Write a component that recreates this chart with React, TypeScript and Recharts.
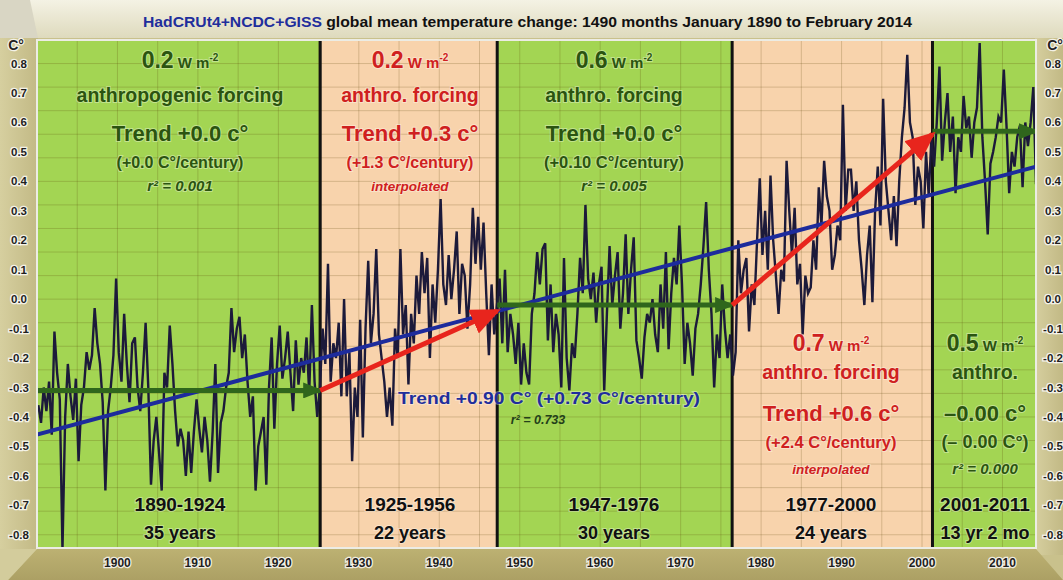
import {
  CartesianGrid,
  ComposedChart,
  Line,
  ReferenceArea,
  ReferenceLine,
  XAxis,
  YAxis,
} from "recharts";

const WIDTH = 1063;
const HEIGHT = 580;
const FONT = "'Liberation Sans', Arial, Helvetica, sans-serif";

// Global mean anomaly (C°), three readings a year, Jan 1890 .. Feb 2014
const t1890s = [
  -0.36, -0.42, -0.30, -0.38, -0.28, -0.46, -0.11, -0.25, -0.34, -0.85,
  -0.40, -0.22, -0.33, -0.41, -0.27, -0.55, -0.36, -0.30, -0.18, -0.24,
  -0.19, -0.03, -0.15, -0.22, -0.35, -0.65, -0.38, -0.30, -0.19, 0.07,
];
const t1900s = [
  -0.18, -0.28, -0.05, -0.22, -0.35, -0.15, -0.13, -0.30, -0.38, -0.25,
  -0.08, -0.30, -0.63, -0.48, -0.40, -0.52, -0.65, -0.25, -0.30, -0.09,
  -0.22, -0.38, -0.50, -0.44, -0.48, -0.60, -0.45, -0.59, -0.45, -0.34,
];
const t1910s = [
  -0.44, -0.52, -0.40, -0.48, -0.62, -0.45, -0.22, -0.59, -0.42, -0.38,
  -0.30, -0.25, -0.03, -0.18, -0.10, -0.06, -0.20, -0.12, -0.28, -0.40,
  -0.33, -0.65, -0.50, -0.45, -0.40, -0.63, -0.30, -0.13, -0.44, -0.22,
];
const t1920s = [
  -0.09, -0.27, -0.20, -0.11, -0.25, -0.38, -0.14, -0.29, -0.20, -0.25,
  -0.13, -0.32, -0.02, -0.28, -0.40, -0.30, -0.10, -0.22, 0.12, -0.28,
  -0.15, -0.20, -0.08, -0.33, 0.0, -0.33, -0.18, -0.55, -0.30, -0.40,
];
const t1930s = [
  -0.07, -0.47, -0.10, 0.13, -0.15, -0.05, 0.17, -0.12, -0.20, -0.28,
  -0.40, -0.30, -0.43, -0.10, -0.20, 0.17, -0.12, -0.02, -0.29, -0.05,
  -0.15, 0.08, -0.05, 0.16, 0.02, 0.14, -0.20, 0.05, -0.08, 0.10,
];
const t1940s = [
  0.34, 0.05, -0.02, 0.15, 0.0, 0.10, 0.23, -0.05, 0.12, 0.08,
  -0.10, 0.05, 0.31, 0.12, 0.28, 0.10, 0.26, 0.02, -0.19, 0.05,
  -0.12, -0.02, 0.07, -0.15, 0.10, -0.18, -0.05, -0.12, -0.22, -0.08,
];
const t1950s = [
  -0.29, -0.15, -0.25, -0.29, -0.05, 0.02, 0.16, 0.05, 0.17, 0.19,
  -0.14, 0.05, -0.18, -0.05, -0.12, -0.30, 0.14, -0.20, -0.31, -0.15,
  -0.20, -0.05, 0.14, 0.02, 0.32, 0.07, 0.0, 0.09, -0.08, 0.05,
];
const t1960s = [
  0.11, -0.31, -0.05, 0.18, -0.02, 0.08, 0.16, -0.10, 0.02, 0.22,
  -0.05, 0.10, 0.21, -0.14, -0.20, -0.27, -0.13, -0.05, -0.08, 0.0,
  -0.12, -0.18, 0.05, -0.10, 0.16, -0.17, 0.02, 0.14, 0.05, 0.25,
];
const t1970s = [
  0.05, -0.22, -0.08, -0.15, -0.26, -0.10, -0.05, 0.05, 0.18, 0.33,
  0.10, -0.05, -0.30, -0.12, -0.20, 0.05, -0.10, -0.20, -0.12, -0.26,
  -0.18, 0.20, 0.02, 0.10, 0.14, -0.11, 0.05, -0.02, 0.20, 0.41,
];
const t1980s = [
  0.15, 0.30, 0.10, 0.42, 0.20, 0.08, -0.05, 0.10, 0.06, 0.47,
  0.30, 0.15, 0.31, 0.05, 0.12, -0.12, 0.08, 0.02, 0.04, 0.20,
  0.10, 0.38, 0.25, 0.47, 0.35, 0.30, 0.10, 0.15, 0.25, 0.20,
];
const t1990s = [
  0.66, 0.30, 0.44, 0.44, 0.30, 0.40, 0.20, 0.10, -0.02, 0.15,
  0.25, -0.01, 0.30, 0.45, 0.25, 0.68, 0.40, 0.30, 0.20, 0.35,
  0.18, 0.40, 0.55, 0.65, 0.83, 0.60, 0.55, 0.32, 0.45, 0.40,
];
const t2000s = [
  0.24, 0.50, 0.35, 0.55, 0.45, 0.60, 0.79, 0.47, 0.60, 0.70,
  0.50, 0.62, 0.36, 0.55, 0.50, 0.69, 0.58, 0.62, 0.48, 0.60,
  0.65, 0.87, 0.55, 0.40, 0.22, 0.46, 0.50, 0.55, 0.62, 0.60,
];
const t2010s = [0.78, 0.59, 0.36, 0.50, 0.45, 0.55, 0.59, 0.38, 0.60, 0.52, 0.60, 0.72, 0.39];

const START = 1890;
const END = 2014 + 2 / 12;

// period boundaries and the fitted lines drawn on each period
const periodEdges = [START, 1925.2, 1947.2, 1976.4, 2001.3, END];
const plateauLevels = [-0.31, -0.02, 0.57];
const rampLevels = [
  [-0.31, -0.04],
  [-0.02, 0.56],
];
const overallTrend = [-0.46, 0.45];

const xTicks = [1900, 1910, 1920, 1930, 1940, 1950, 1960, 1970, 1980, 1990, 2000, 2010];
const yTicks = [-0.8, -0.7, -0.6, -0.5, -0.4, -0.3, -0.2, -0.1, 0, 0.1, 0.2, 0.3, 0.4, 0.5, 0.6, 0.7, 0.8];

const GREEN_BG = "#a3d553";
const PEACH_BG = "#f8d3ac";
const GREEN_INK = "#2b5410";
const RED_INK = "#cf2020";
const BLUE_INK = "#1f2e9c";

const temps = [
  ...t1890s, ...t1900s, ...t1910s, ...t1920s, ...t1930s, ...t1940s, ...t1950s,
  ...t1960s, ...t1970s, ...t1980s, ...t1990s, ...t2000s, ...t2010s,
];
const series = temps.map((temp, i) => ({ year: START + (i + 0.5) / 3, temp }));

const gridX = Array.from({ length: 24 }, (_, i) => 1895 + i * 5);
const gridY = Array.from({ length: 87 }, (_, i) => Math.round((-0.84 + i * 0.02) * 100) / 100);

const plateaus = [0, 2, 4].map((p, i) => [
  { year: periodEdges[p], v: plateauLevels[i] },
  { year: periodEdges[p + 1], v: plateauLevels[i] },
]);
const ramps = [1, 3].map((p, i) => [
  { year: periodEdges[p], v: rampLevels[i][0] },
  { year: periodEdges[p + 1], v: rampLevels[i][1] },
]);
const trendLine = [
  { year: START, v: overallTrend[0] },
  { year: END, v: overallTrend[1] },
];

const rowsHigh = [68, 102, 141, 168, 191];
const rowsLow = [351, 379, 421, 448, 474];

const periodNotes = [
  { cx: 180, rows: rowsHigh, ink: GREEN_INK, forcing: "0.2", what: "anthropogenic forcing", trend: "Trend +0.0 c°", rate: "(+0.0 C°/century)", fit: "r² = 0.001", span: "1890-1924", length: "35 years", rateSize: 16 },
  { cx: 410, rows: rowsHigh, ink: RED_INK, forcing: "0.2", what: "anthro. forcing", trend: "Trend +0.3 c°", rate: "(+1.3 C°/century)", fit: "interpolated", span: "1925-1956", length: "22 years", rateSize: 16 },
  { cx: 614, rows: rowsHigh, ink: GREEN_INK, forcing: "0.6", what: "anthro. forcing", trend: "Trend +0.0 c°", rate: "(+0.10 C°/century)", fit: "r² = 0.005", span: "1947-1976", length: "30 years", rateSize: 16.5 },
  { cx: 831, rows: rowsLow, ink: RED_INK, forcing: "0.7", what: "anthro. forcing", trend: "Trend +0.6 c°", rate: "(+2.4 C°/century)", fit: "interpolated", span: "1977-2000", length: "24 years", rateSize: 16.5 },
  { cx: 985, rows: rowsLow, ink: GREEN_INK, forcing: "0.5", what: "anthro.", trend: "–0.00 c°", rate: "(– 0.00 C°)", fit: "r² = 0.000", span: "2001-2011", length: "13 yr 2 mo", rateSize: 18 },
];

const halo = { stroke: "rgba(255,255,255,0.35)", strokeWidth: 2, paintOrder: "stroke" as const };
const tickHalo = { stroke: "#ffffff", strokeWidth: 2.6, strokeOpacity: 0.8, paintOrder: "stroke" as const };

function XTick(props: any) {
  const { x, payload } = props;
  return (
    <text x={x} y={567} textAnchor="middle" fontFamily={FONT} fontSize={12} fontWeight="bold" fill="#1f1f1f" {...tickHalo}>
      {payload.value}
    </text>
  );
}

function LeftTick(props: any) {
  const { y, payload } = props;
  return (
    <text x={19} y={y + 4} textAnchor="middle" fontFamily={FONT} fontSize={11.5} fontWeight="bold" fill="#1f1f1f" {...tickHalo}>
      {Number(payload.value).toFixed(1)}
    </text>
  );
}

function RightTick(props: any) {
  const { y, payload } = props;
  return (
    <text x={1053} y={y + 4} textAnchor="middle" fontFamily={FONT} fontSize={11.5} fontWeight="bold" fill="#1f1f1f" {...tickHalo}>
      {Number(payload.value).toFixed(1)}
    </text>
  );
}

function Frame() {
  return (
    <svg width={WIDTH} height={HEIGHT} style={{ position: "absolute", left: 0, top: 0 }}>
      <defs>
        <linearGradient id="titleBar" x1="0" y1="0" x2="0" y2="1">
          <stop offset="0" stopColor="#f4f2e4" />
          <stop offset="1" stopColor="#dedabd" />
        </linearGradient>
        <linearGradient id="sideBar" x1="0" y1="0" x2="1" y2="0">
          <stop offset="0" stopColor="#d6cf9f" />
          <stop offset="1" stopColor="#c2b985" />
        </linearGradient>
        <linearGradient id="footBar" x1="0" y1="0" x2="0" y2="1">
          <stop offset="0" stopColor="#bcb172" />
          <stop offset="1" stopColor="#aca064" />
        </linearGradient>
      </defs>
      <rect width={WIDTH} height={HEIGHT} fill="#c9c18c" />
      <rect x={0} y={30} width={38} height={525} fill="url(#sideBar)" />
      <rect x={1035} y={30} width={28} height={525} fill="url(#sideBar)" />
      <polygon points="0,0 1063,0 1063,38 0,38" fill="url(#titleBar)" />
      <polygon points="0,0 30,0 38,38 0,38" fill="#d9d6c4" />
      <polygon points="37,549 1036,549 1063,580 8,580" fill="url(#footBar)" />
      <polygon points="0,549 37,549 8,580 0,580" fill="#d3cc9c" />
    </svg>
  );
}

function Notes() {
  const base = { fontFamily: FONT, fontWeight: "bold" as const, textAnchor: "middle" as const };
  return (
    <svg width={WIDTH} height={HEIGHT} style={{ position: "absolute", left: 0, top: 0, pointerEvents: "none" }}>
      <defs>
        <marker id="redHead" markerUnits="userSpaceOnUse" markerWidth={30} markerHeight={26} refX={26} refY={13} orient="auto">
          <path d="M0,0 L30,13 L0,26 Z" fill="#e8251d" />
        </marker>
        <marker id="greenHead" markerUnits="userSpaceOnUse" markerWidth={20} markerHeight={16} refX={17} refY={8} orient="auto">
          <path d="M0,0 L20,8 L0,16 Z" fill="#2f661c" />
        </marker>
      </defs>
      <rect x={37} y={40} width={999} height={508} fill="none" stroke="#ecece4" strokeWidth={2} />

      <text x={143} y={27} fontFamily={FONT} fontWeight="bold" fontSize={15} textLength={769} lengthAdjust="spacingAndGlyphs" fill="#111">
        <tspan fill={BLUE_INK}>HadCRUt4+NCDC+GISS</tspan>
        <tspan> global mean temperature change: 1490 months January 1890 to February 2014</tspan>
      </text>

      <text x={16} y={50} {...base} fontSize={14} fill="#1f1f1f" {...tickHalo}>C°</text>
      <text x={1055} y={50} {...base} fontSize={14} fill="#1f1f1f" {...tickHalo}>C°</text>

      {periodNotes.map((n) => (
        <g key={n.span} fill={n.ink} {...halo}>
          <text x={n.cx} y={n.rows[0]} {...base}>
            <tspan fontSize={23}>{n.forcing}</tspan>
            <tspan fontSize={15}> W m</tspan>
            <tspan fontSize={10} dy={-7}>-2</tspan>
          </text>
          <text x={n.cx} y={n.rows[1]} {...base} fontSize={19.5}>{n.what}</text>
          <text x={n.cx} y={n.rows[2]} {...base} fontSize={22}>{n.trend}</text>
          <text x={n.cx} y={n.rows[3]} {...base} fontSize={n.rateSize}>{n.rate}</text>
          <text x={n.cx} y={n.rows[4]} {...base} fontSize={n.fit === "interpolated" ? 13.5 : 15} fontStyle="italic">{n.fit}</text>
          <text x={n.cx} y={511} {...base} fontSize={19} fill="#111">{n.span}</text>
          <text x={n.cx} y={539} {...base} fontSize={18} fill="#111">{n.length}</text>
        </g>
      ))}

      <text x={398} y={404} fontFamily={FONT} fontWeight="bold" fontSize={16.5} textLength={302} lengthAdjust="spacingAndGlyphs" fill={BLUE_INK} {...halo}>
        Trend +0.90 C° (+0.73 C°/century)
      </text>
      <text x={538} y={424} {...base} fontSize={12.5} fontStyle="italic" fill="#24401a">r² = 0.733</text>
    </svg>
  );
}

export default function App() {
  return (
    <div style={{ position: "absolute", left: 0, top: 0, width: WIDTH, height: HEIGHT }}>
      <Frame />
      <div style={{ position: "absolute", left: 0, top: 0 }}>
        <ComposedChart width={WIDTH} height={HEIGHT} data={series} margin={{ top: 40, right: 0, bottom: 0, left: 0 }}>
          <XAxis
            dataKey="year"
            type="number"
            domain={[START, END]}
            allowDataOverflow
            ticks={xTicks}
            tick={XTick}
            tickLine={false}
            axisLine={false}
            height={32}
          />
          <YAxis
            domain={[-0.845, 0.88]}
            allowDataOverflow
            ticks={yTicks}
            tick={LeftTick}
            tickLine={false}
            axisLine={false}
            width={37}
          />
          <YAxis
            yAxisId="r"
            orientation="right"
            domain={[-0.845, 0.88]}
            allowDataOverflow
            ticks={yTicks}
            tick={RightTick}
            tickLine={false}
            axisLine={false}
            width={27}
          />
          {periodEdges.slice(0, -1).map((edge, i) => (
            <ReferenceArea
              key={edge}
              x1={edge}
              x2={periodEdges[i + 1]}
              fill={i % 2 === 0 ? GREEN_BG : PEACH_BG}
              fillOpacity={1}
              stroke="none"
              zIndex={-150}
            />
          ))}
          <CartesianGrid
            horizontalValues={gridY}
            verticalValues={gridX}
            stroke="rgba(90,70,10,0.22)"
            strokeWidth={1}
          />
          {periodEdges.slice(1, -1).map((edge) => (
            <ReferenceLine key={edge} x={edge} stroke="#121212" strokeWidth={3} />
          ))}
          <Line
            dataKey="temp"
            type="linear"
            stroke="#1c1a3a"
            strokeWidth={2.4}
            dot={false}
            activeDot={false}
            isAnimationActive={false}
          />
          <Line
            data={trendLine}
            dataKey="v"
            stroke="#1d2b9c"
            strokeWidth={4}
            dot={false}
            activeDot={false}
            isAnimationActive={false}
          />
          {plateaus.map((seg, i) => (
            <Line
              key={`flat${i}`}
              data={seg}
              dataKey="v"
              stroke="#2f661c"
              strokeWidth={5}
              dot={false}
              activeDot={false}
              markerEnd="url(#greenHead)"
              isAnimationActive={false}
            />
          ))}
          {ramps.map((seg, i) => (
            <Line
              key={`ramp${i}`}
              data={seg}
              dataKey="v"
              stroke="#e8251d"
              strokeWidth={5}
              dot={false}
              activeDot={false}
              markerEnd="url(#redHead)"
              isAnimationActive={false}
            />
          ))}
        </ComposedChart>
      </div>
      <Notes />
    </div>
  );
}
